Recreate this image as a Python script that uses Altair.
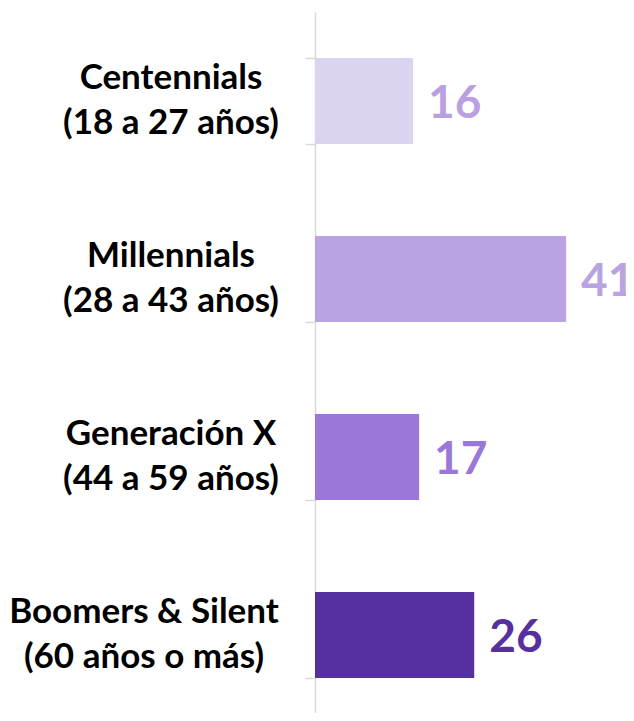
import altair as alt
import pandas as pd

categories = [
    "Centennials|(18 a 27 años)",
    "Millennials|(28 a 43 años)",
    "Generación X|(44 a 59 años)",
    "Boomers & Silent|(60 años o más)",
]
values = [16, 41, 17, 26]
bar_colors = ["#DCD3F1", "#B9A3E3", "#9B78D8", "#56309E"]
label_colors = ["#B9A1E1", "#B9A3E3", "#9B78D8", "#56309E"]

df = pd.DataFrame({"cat": categories, "val": values})

yscale = alt.Scale(domain=categories, range=[0, 712], paddingInner=0.517, paddingOuter=0.258)
y = alt.Y(
    "cat:N",
    sort=categories,
    title=None,
    scale=yscale,
    axis=alt.Axis(
        labels=False,
        tickBand="extent",
        tickSize=10,
        tickColor="#D9D9D9",
        tickWidth=1.5,
        domainColor="#D9D9D9",
        domainWidth=1.5,
        grid=False,
    ),
)
x = alt.X("val:Q", scale=alt.Scale(domain=[0, 50.78], nice=False), axis=None)

bars = alt.Chart(df).mark_bar().encode(
    y=y,
    x=x,
    color=alt.Color("cat:N", scale=alt.Scale(domain=categories, range=bar_colors), legend=None),
)
values_text = alt.Chart(df).mark_text(
    align="left", baseline="middle", dx=15, dy=3, font="Lato", fontWeight="bold", fontSize=46
).encode(
    y=y,
    x=x,
    text=alt.Text("val:Q"),
    color=alt.Color("cat:N", scale=alt.Scale(domain=categories, range=label_colors), legend=None),
)

cat_style = dict(
    align="center", baseline="middle", lineBreak="|", lineHeight=45, dy=-23,
    font="Lato", fontWeight="bold", fontSize=35, color="#000000",
)
cat_main = alt.Chart(df).transform_filter(
    "indexof(datum.cat, 'Boomers') < 0"
).mark_text(**cat_style).encode(
    y=alt.Y("cat:N", sort=categories, scale=yscale),
    x=alt.value(-144),
    text="cat:N",
)
cat_boomers = alt.Chart(df).transform_filter(
    "indexof(datum.cat, 'Boomers') >= 0"
).mark_text(**cat_style).encode(
    y=alt.Y("cat:N", sort=categories, scale=yscale),
    x=alt.value(-171),
    text="cat:N",
)

chart = (
    alt.layer(bars, values_text, cat_main, cat_boomers)
    .resolve_scale(color="independent")
    .properties(
        width=311,
        height=701,
        autosize=alt.AutoSizeParams(type="none"),
        padding={"left": 307, "top": 4, "right": 0, "bottom": 0},
        background="#FFFFFF",
    )
    .configure_view(stroke=None)
)

chart.save("out.html", embed_options={"renderer": "svg", "actions": False})
